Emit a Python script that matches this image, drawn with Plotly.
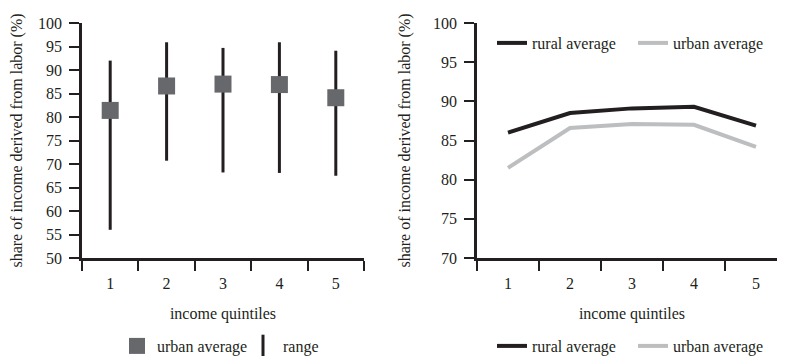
import plotly.graph_objects as go

quintiles = ["1", "2", "3", "4", "5"]
urban_avg = [81.4, 86.6, 87.0, 86.9, 84.1]
range_low = [56.0, 70.7, 68.2, 68.1, 67.5]
range_high = [92.0, 95.9, 94.7, 95.9, 94.1]
rural_avg = [86.0, 88.5, 89.1, 89.3, 86.9]
urban_avg_line = [81.5, 86.6, 87.1, 87.0, 84.2]

DARK = "#231f20"
GREY = "#67686b"
LIGHT = "#bcbec0"
FONT = "Liberation Serif"
FS = 16

W, H = 785, 356
OFF = 8  # page body margin
def px_x(a, b):
    return [(a - OFF) / W, min(1.0, (b - OFF) / W)]
def px_y(top, bottom):
    return [1 - (bottom - OFF) / H, 1 - (top - OFF) / H]

fig = go.Figure()

# range bars (left)
rx, ry = [], []
for q, lo, hi in zip(quintiles, range_low, range_high):
    rx += [q, q, None]
    ry += [lo, hi, None]
fig.add_trace(go.Scatter(x=rx, y=ry, mode="lines", line=dict(color=DARK, width=3),
                         showlegend=False, xaxis="x", yaxis="y", hoverinfo="skip"))
fig.add_trace(go.Scatter(x=quintiles, y=urban_avg, mode="markers",
                         marker=dict(symbol="square", size=17, color=GREY),
                         name="urban average", legend="legend", xaxis="x", yaxis="y"))
fig.add_trace(go.Scatter(x=[None], y=[None], mode="markers",
                         marker=dict(symbol="line-ns", size=16, color=DARK,
                                     line=dict(color=DARK, width=3)),
                         name="range", legend="legend", xaxis="x", yaxis="y"))

# right lines
fig.add_trace(go.Scatter(x=quintiles, y=rural_avg, mode="lines", line=dict(color=DARK, width=4),
                         name="rural average", legend="legend2", xaxis="x2", yaxis="y2"))
fig.add_trace(go.Scatter(x=quintiles, y=urban_avg_line, mode="lines", line=dict(color=LIGHT, width=4),
                         name="urban average", legend="legend2", xaxis="x2", yaxis="y2"))
fig.add_trace(go.Scatter(x=[None], y=[None], mode="lines", line=dict(color=DARK, width=4),
                         name="rural average", legend="legend3", xaxis="x2", yaxis="y2"))
fig.add_trace(go.Scatter(x=[None], y=[None], mode="lines", line=dict(color=LIGHT, width=4),
                         name="urban average", legend="legend3", xaxis="x2", yaxis="y2"))

axis_common = dict(showline=True, linecolor=DARK, linewidth=2.5, ticks="outside",
                   ticklen=10, tickwidth=2, tickcolor=DARK, showgrid=False, zeroline=False,
                   automargin=False,
                   tickfont=dict(family=FONT, size=FS, color=DARK))

xcommon = dict(axis_common, type="category", tickson="boundaries", range=[-0.5, 4.5],
               ticklabelstandoff=9,
               title=dict(text="income quintiles", font=dict(family=FONT, size=FS, color=DARK), standoff=17))

ytitle = dict(text="share of income derived from labor (%)", font=dict(family=FONT, size=FS, color=DARK), standoff=19)
ycommon = dict(axis_common, ticklabelstandoff=4, dtick=5, title=ytitle)

leg_common = dict(orientation="h", font=dict(family=FONT, size=FS, color=DARK),
                  bgcolor="rgba(0,0,0,0)", xanchor="left", yanchor="middle", itemclick=False,
                  itemdoubleclick=False, entrywidthmode="pixels")

fig.update_layout(
    width=W, height=H,
    margin=dict(l=0, r=0, t=0, b=0, autoexpand=False),
    paper_bgcolor="white", plot_bgcolor="white",
    xaxis=dict(xcommon, domain=px_x(82, 364), anchor="y"),
    yaxis=dict(ycommon, domain=px_y(23, 258), range=[50, 100], anchor="x"),
    xaxis2=dict(xcommon, domain=px_x(477, 787), anchor="y2"),
    yaxis2=dict(ycommon, domain=px_y(23, 258), range=[70, 100], anchor="x2"),
    legend=dict(leg_common, x=109 / W, y=1 - 338 / H, entrywidth=81),
    legend2=dict(leg_common, x=484 / W, y=1 - 35 / H, entrywidth=96),
    legend3=dict(leg_common, x=484 / W, y=1 - 338 / H, entrywidth=96),
)

fig.write_html("out.html")
